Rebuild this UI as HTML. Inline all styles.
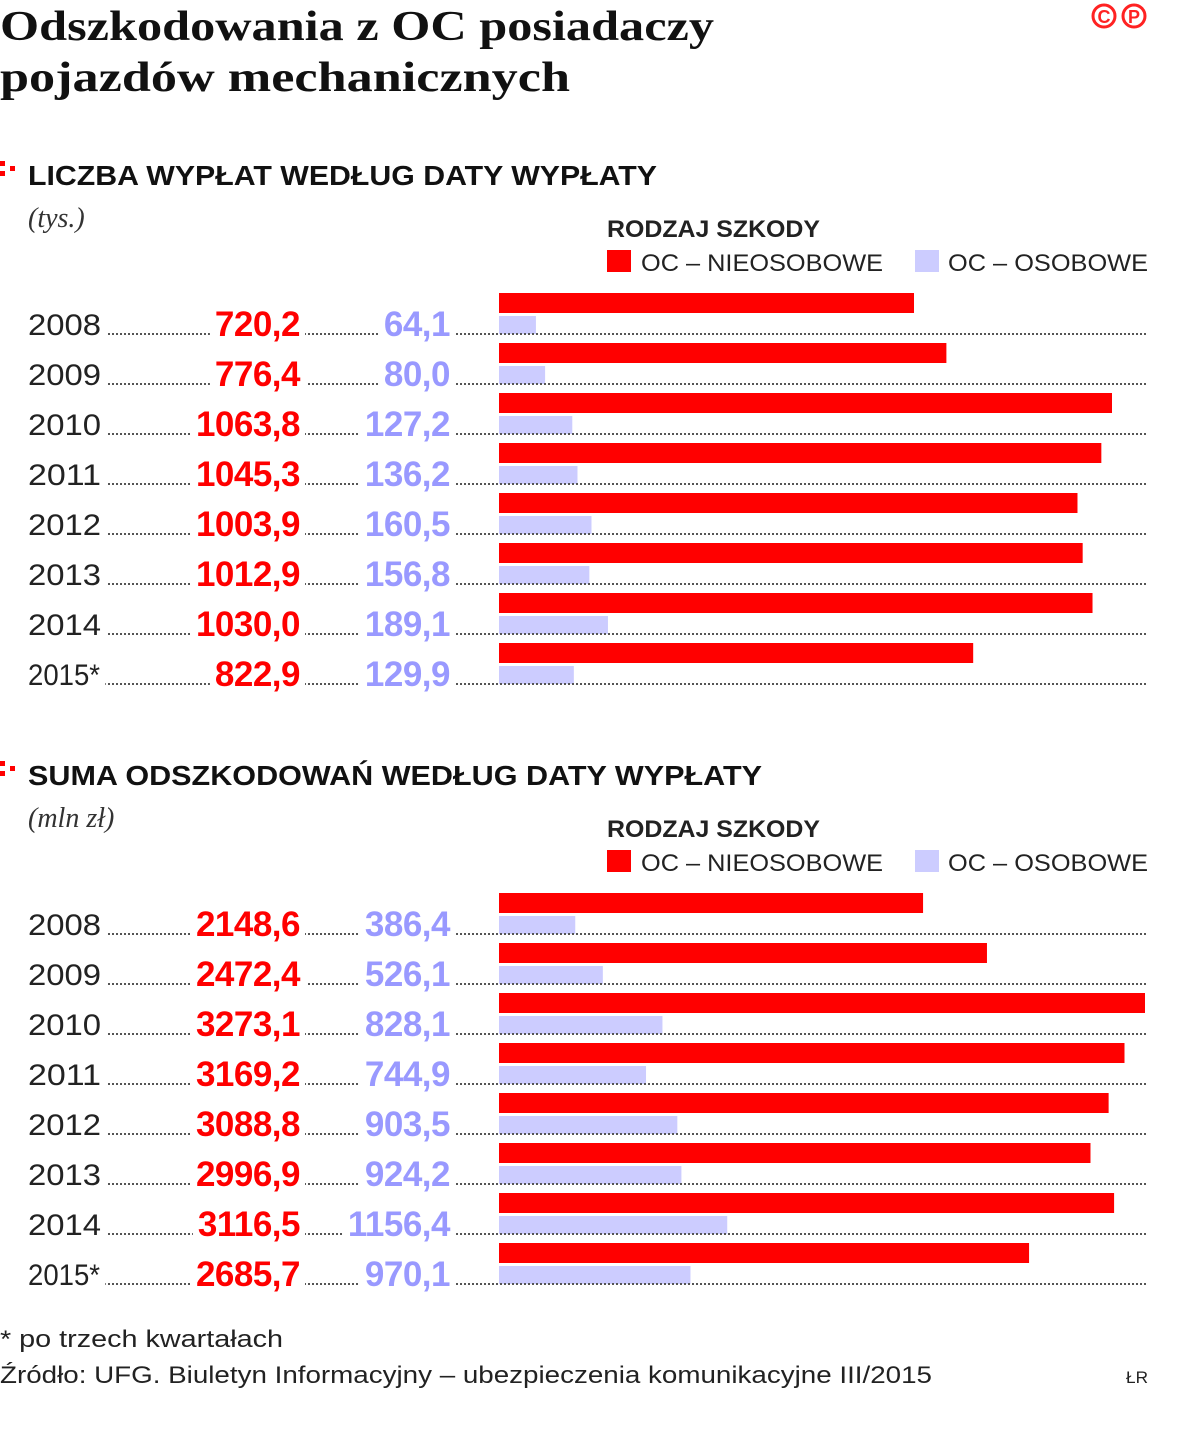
<!DOCTYPE html>
<html><head><meta charset="utf-8"><style>
body{margin:0;background:#fff;}
svg{display:block;}
</style></head><body>
<svg id="chart" width="1200" height="1442" viewBox="0 0 1200 1442" xmlns="http://www.w3.org/2000/svg">
<rect width="1200" height="1442" fill="#fff"/>
<g font-family="Liberation Serif, serif" font-weight="bold" font-size="42" fill="#111">
<text x="0" y="40" textLength="714" lengthAdjust="spacingAndGlyphs">Odszkodowania z OC posiadaczy</text>
<text x="0" y="91" textLength="570" lengthAdjust="spacingAndGlyphs">pojazdów mechanicznych</text>
</g>
<g fill="none" stroke="#f22" stroke-width="3">
<circle cx="1104" cy="16" r="11"/><circle cx="1134" cy="16" r="11"/>
<text x="1104" y="23" font-family="Liberation Sans, sans-serif" font-weight="bold" font-size="18" fill="#f22" stroke="none" text-anchor="middle">C</text>
<text x="1134" y="23" font-family="Liberation Sans, sans-serif" font-weight="bold" font-size="18" fill="#f22" stroke="none" text-anchor="middle">P</text>
</g>
<g id="p1"></g>
<g id="p2"></g>
<g font-family="Liberation Sans, sans-serif" font-size="24" fill="#222">
<text x="0" y="1347" textLength="283" lengthAdjust="spacingAndGlyphs">* po trzech kwartałach</text>
<text x="0" y="1383" textLength="932" lengthAdjust="spacingAndGlyphs">Źródło: UFG. Biuletyn Informacyjny – ubezpieczenia komunikacyjne III/2015</text>
<text x="1126" y="1383" font-size="17" textLength="22" lengthAdjust="spacingAndGlyphs">ŁR</text>
</g>
</svg>
<script>
const years = ["2008","2009","2010","2011","2012","2013","2014","2015*"];
const countNonPersonal = [720.2,776.4,1063.8,1045.3,1003.9,1012.9,1030.0,822.9];
const countPersonal = [64.1,80.0,127.2,136.2,160.5,156.8,189.1,129.9];
const sumNonPersonal = [2148.6,2472.4,3273.1,3169.2,3088.8,2996.9,3116.5,2685.7];
const sumPersonal = [386.4,526.1,828.1,744.9,903.5,924.2,1156.4,970.1];
const NS="http://www.w3.org/2000/svg";
function el(tag,attrs,parent,txt){const e=document.createElementNS(NS,tag);for(const k in attrs)e.setAttribute(k,attrs[k]);if(txt!==undefined)e.textContent=txt;parent.appendChild(e);return e;}
function fmt(v){return v.toFixed(1).replace('.',',');}
function panel(g,top,header,headerW,unit,red,blue,pxPerUnit){
  const h=el('g',{},g);
  
  
  el('rect',{x:0,y:top-14,width:5,height:5,fill:'#f00'},h);
  el('rect',{x:0,y:top-4,width:5,height:5,fill:'#f00'},h);
  el('rect',{x:10,y:top-9,width:5,height:5,fill:'#f00'},h);
  el('text',{x:28,y:top+10,'font-family':'Liberation Sans, sans-serif','font-weight':'bold','font-size':28,fill:'#111',textLength:headerW,lengthAdjust:'spacingAndGlyphs'},h,header);
  const u=el('text',{x:28,y:top+52,'font-family':'Liberation Serif, serif','font-style':'italic','font-size':28,fill:'#333'},g,unit);
  
  
  const lg=el('g',{'font-family':'Liberation Sans, sans-serif',fill:'#222'},g);
  
  
  el('text',{x:607,y:top+62,'font-weight':'bold','font-size':24,textLength:213,lengthAdjust:'spacingAndGlyphs'},lg,'RODZAJ SZKODY');
  el('rect',{x:607,y:top+75,width:24,height:22,fill:'#f00'},lg);
  el('text',{x:641,y:top+96,'font-size':24,textLength:242,lengthAdjust:'spacingAndGlyphs'},lg,'OC – NIEOSOBOWE');
  el('rect',{x:915,y:top+75,width:24,height:22,fill:'#ccf'},lg);
  el('text',{x:948,y:top+96,'font-size':24,textLength:200,lengthAdjust:'spacingAndGlyphs'},lg,'OC – OSOBOWE');
  const x0=499;
  const x=v=>v*pxPerUnit;
  years.forEach((yr,i)=>{
    const base=top+160+50*i;
    const row=el('g',{},g);
    
    
    const rb=el('rect',{x:x0,y:base-42,width:x(red[i]),height:20,fill:'#f00'},row);
    
    
    const bb=el('rect',{x:x0,y:base-19,width:x(blue[i]),height:18,fill:'#ccf'},row);
    
    
    el('line',{x1:100,y1:base-1,x2:1148,y2:base-1,stroke:'#555','stroke-width':2,'stroke-dasharray':'2 2'},row);
    const yt=el('text',{x:28,y:base,'font-family':'Liberation Sans, sans-serif','font-size':30,fill:'#222',textLength:yr.length>4?72:73,lengthAdjust:'spacingAndGlyphs'},row,yr);
    
    
    const rt=el('text',{x:300,y:base+1,'text-anchor':'end','font-family':'Liberation Sans, sans-serif','font-weight':'bold','font-size':35,fill:'#f00','letter-spacing':-0.5},row,fmt(red[i]));
    
    
    const bt=el('text',{x:450,y:base+1,'text-anchor':'end','font-family':'Liberation Sans, sans-serif','font-weight':'bold','font-size':35,fill:'#99f','letter-spacing':-0.5},row,fmt(blue[i]));
    
    
    [yt,rt,bt].forEach(t=>{const b=t.getBBox();const r=el('rect',{x:b.x-5,y:base-6,width:b.width+10,height:10,fill:'#fff'},row);row.insertBefore(r,t);});
  });
}
panel(document.getElementById('p1'),175,'LICZBA WYPŁAT WEDŁUG DATY WYPŁATY',629,'(tys.)',countNonPersonal,countPersonal,613/1063.8);
panel(document.getElementById('p2'),775,'SUMA ODSZKODOWAŃ WEDŁUG DATY WYPŁATY',734,'(mln zł)',sumNonPersonal,sumPersonal,646/3273.1);
</script>
</body></html>
